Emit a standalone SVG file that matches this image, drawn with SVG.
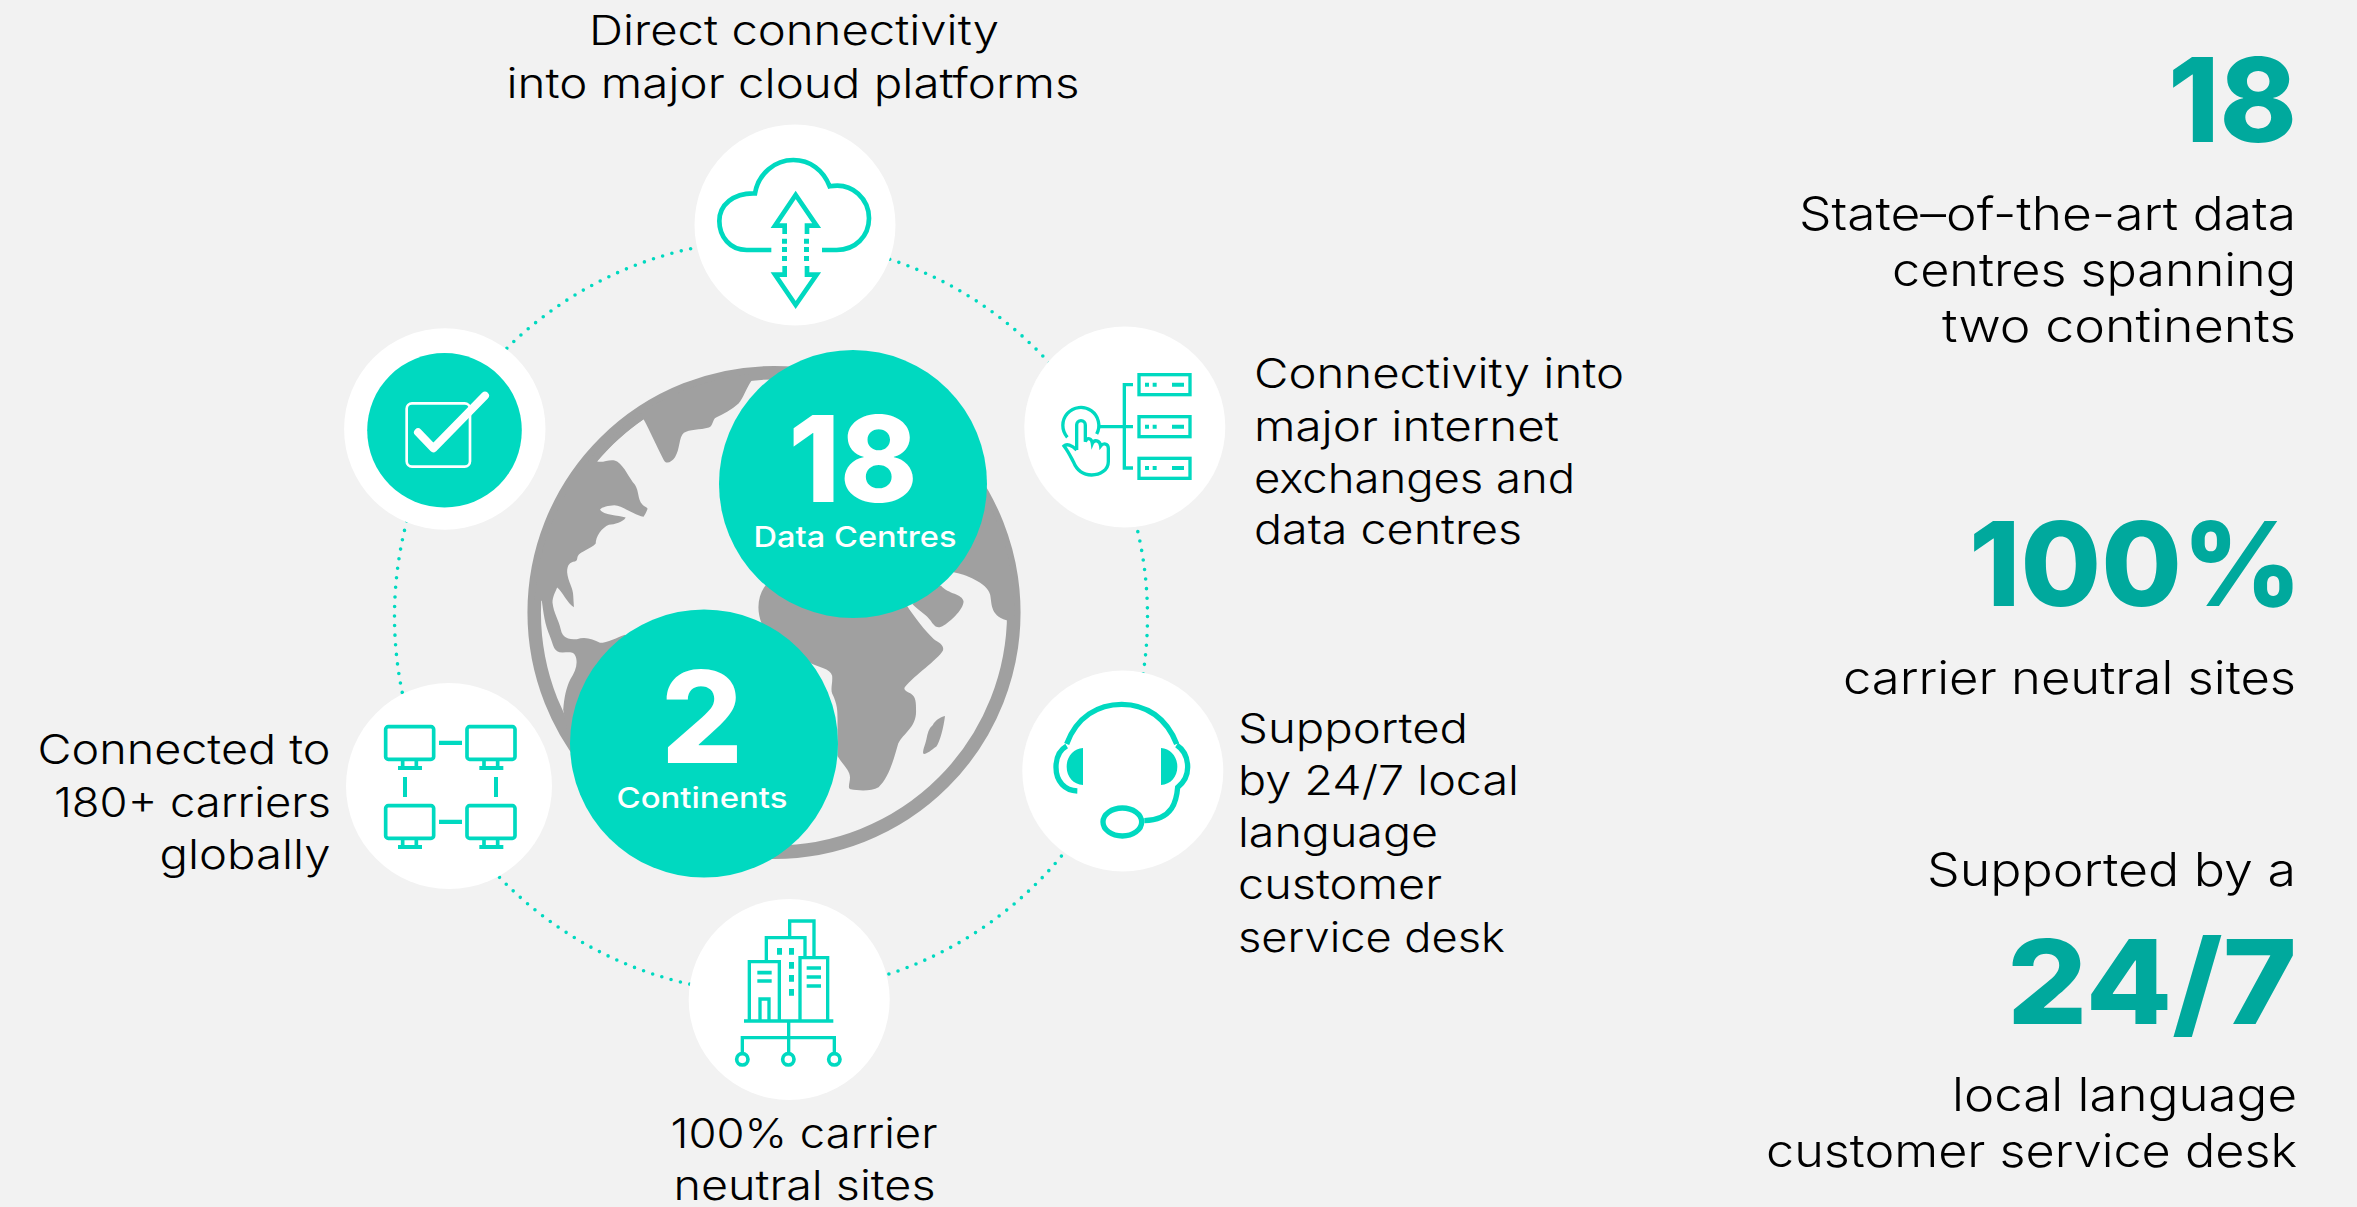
<svg xmlns="http://www.w3.org/2000/svg" xmlns:xlink="http://www.w3.org/1999/xlink" width="2357" height="1207" viewBox="0 0 2357 1207">
<style>
text{font-family:"Inter","Liberation Sans",sans-serif;fill:#000}
.t41{font-size:41px;font-weight:300}
.t46{font-size:46px;font-weight:300}
.big{font-weight:800;fill:#00a99d}
.in{fill:#fff;font-weight:800}
.sub{fill:#fff;font-size:29px;font-weight:500}
.node{fill:#fff}
.ic{fill:none;stroke:#00d9c0;stroke-linecap:butt;stroke-linejoin:miter}
.icf{fill:#00d9c0}
.land{fill:#a0a0a0}
.teal{fill:#00d9c0}
</style>
<defs>
<g id="mon">
<rect class="ic" x="137" y="170" width="144" height="98" rx="8" stroke-width="11"/>
<path class="ic" stroke-width="11" d="M188,268V292M229,268V292"/>
<rect class="icf" x="174" y="288" width="72" height="12"/>
</g>
</defs>
<rect width="2357" height="1207" fill="#f2f2f2"/>
<g id="connectors">
<circle cx="771" cy="616.5" r="376.5" fill="none" stroke="#00d9c0" stroke-width="3.6" stroke-linecap="round" stroke-dasharray="0 9.616"/>
</g>
<g id="globe">
<circle cx="774" cy="612.5" r="239.8" fill="none" stroke="#a0a0a0" stroke-width="13.5"/>
<g transform="translate(500,340) scale(.35714)">
<path class="land" d="M705,113C690,135 680,165 668,178C650,195 625,208 605,217C595,222 597,240 585,245C560,252 530,250 515,260C500,272 505,305 490,328C480,342 465,350 458,335C440,300 420,255 402,222C355,255 310,295 272,340C290,345 310,330 328,340C350,355 360,385 378,405C390,425 385,445 398,460C405,468 413,468 413,473C410,482 405,490 402,495C375,490 345,465 320,463C305,464 285,468 280,475C290,490 330,490 352,497C345,510 320,517 305,517C285,525 268,550 268,570C255,585 225,592 218,605C215,612 218,618 210,620C195,622 188,630 188,650C190,675 205,695 205,715L207,748C190,740 172,700 160,693C155,705 147,720 147,735C150,765 165,785 170,810C175,835 190,838 215,838C240,830 260,838 280,848C300,848 330,832 350,825L450,900L450,1050L200,1160L177,1035C180,1000 185,975 197,950C210,930 218,910 213,890C208,870 195,875 175,875C150,875 150,855 140,830C125,795 122,765 117,730L97,730A671,671 0 0 1 705,95Z"/>
<path class="land" d="M780,640L745,685C725,710 715,750 733,795L800,850L870,905C890,915 925,920 930,940C932,960 925,975 930,990C945,1020 945,1040 945,1060L945,1165C960,1190 980,1205 980,1225C980,1240 972,1255 982,1258C1005,1262 1040,1264 1060,1252C1090,1225 1105,1165 1115,1130C1130,1100 1165,1085 1165,1040C1165,1015 1165,1000 1150,990C1135,982 1128,978 1135,970C1160,940 1225,895 1240,870C1245,855 1230,848 1215,838C1190,815 1160,775 1140,745L1000,650Z"/>
<path class="land" d="M1155,740C1175,760 1195,770 1205,785C1215,800 1222,808 1235,803C1255,795 1298,755 1298,732C1295,710 1255,712 1235,688L1200,690Z"/>
<path class="land" d="M1100,500L1270,650C1300,655 1365,680 1372,712C1378,735 1370,770 1418,785L1440,785A673,673 0 0 0 1300,350Z"/>
<path class="land" d="M1246,1053C1232,1056 1218,1066 1212,1078C1200,1088 1198,1100 1194,1118C1190,1135 1183,1150 1185,1158C1190,1163 1205,1150 1222,1138C1232,1125 1242,1085 1246,1053Z"/>
</g>
</g>
<g id="node-18">
<circle class="teal" cx="853" cy="484" r="134"/>
<text class="in" x="788.5" y="502" font-size="120" textLength="129" lengthAdjust="spacingAndGlyphs">18</text>
<text class="sub" x="753.5" y="547" textLength="203" lengthAdjust="spacingAndGlyphs">Data Centres</text>
</g>
<g id="node-2">
<circle class="teal" cx="704" cy="743.5" r="134"/>
<text class="in" x="661" y="763" font-size="128" textLength="82" lengthAdjust="spacingAndGlyphs">2</text>
<text class="sub" x="616.5" y="808" textLength="171" lengthAdjust="spacingAndGlyphs">Continents</text>
</g>
<g id="node-cloud">
<circle class="node" cx="795" cy="225" r="100.5"/>
<g transform="translate(680,110) scale(.33333)">
<path class="ic" stroke-width="14" d="M274,420H200C150,420 118,380 118,333C118,285 160,248 225,250C235,190 285,150 340,150C390,150 430,180 449,229C520,215 567,270 567,325C567,380 525,420 470,420H426"/>
<path class="ic" stroke-width="14" d="M314,372V347H285L347,255L410,347H381V372M314,468V494H285L347,585L410,494H381V468"/>
<path class="icf" d="M306,386h15v15h-15zM306,411h15v15h-15zM306,438h15v15h-15zM372,386h15v15h-15zM372,411h15v15h-15zM372,438h15v15h-15z"/>
</g>
<text class="t41" x="589" y="45" textLength="410" lengthAdjust="spacingAndGlyphs">Direct connectivity</text>
<text class="t41" x="506.5" y="98" textLength="573" lengthAdjust="spacingAndGlyphs">into major cloud platforms</text>
</g>
<g id="node-network">
<circle class="node" cx="1124.8" cy="427" r="100.5"/>
<g transform="translate(1010,320) scale(.33333)">
<rect class="ic" stroke-width="10" x="387" y="164" width="153" height="60"/>
<rect class="ic" stroke-width="10" x="387" y="290" width="153" height="60"/>
<rect class="ic" stroke-width="10" x="387" y="415" width="153" height="60"/>
<path class="icf" d="M405,188h12v12h-12zM428,188h12v12h-12zM486,188h36v12h-36zM405,314h12v12h-12zM428,314h12v12h-12zM486,314h36v12h-36zM405,438h12v12h-12zM428,438h12v12h-12zM486,438h36v12h-36z"/>
<path class="ic" stroke-width="10" d="M369,194H343V444H369M270,320H369"/>
<path class="ic" stroke-width="10" stroke-linecap="round" stroke-linejoin="round" d="M172,352A54,54 0 1 1 260,342"/>
<path class="ic" stroke-width="10" stroke-linecap="round" stroke-linejoin="round" d="M200,390V315A13,13 0 0 1 226,315V365C232,350 245,355 247,370C252,358 270,360 272,378C280,368 295,370 295,385V425C295,450 270,465 245,465C215,465 200,450 190,425C182,410 175,395 162,378C170,370 185,375 200,390"/>
</g>
<text class="t41" x="1254" y="388" textLength="370" lengthAdjust="spacingAndGlyphs">Connectivity into</text>
<text class="t41" x="1254" y="440.5" textLength="305" lengthAdjust="spacingAndGlyphs">major internet</text>
<text class="t41" x="1254" y="492.5" textLength="321" lengthAdjust="spacingAndGlyphs">exchanges and</text>
<text class="t41" x="1254" y="544" textLength="268" lengthAdjust="spacingAndGlyphs">data centres</text>
</g>
<g id="node-support">
<circle class="node" cx="1122.8" cy="771" r="100.5"/>
<g transform="translate(1010,660) scale(.33333)">
<path class="ic" stroke-width="16" d="M170,252C200,170 265,133 335,133C410,133 470,175 500,252M170,258C140,275 138,305 138,322C138,365 165,392 202,393M500,255C530,275 533,305 533,322C533,345 525,365 503,382C500,420 490,480 403,482"/>
<ellipse class="ic" stroke-width="16" cx="337" cy="486" rx="58" ry="42"/>
<path class="icf" d="M219,264C190,266 170,290 170,320C170,350 190,373 219,375ZM453,264C482,266 502,290 502,320C502,350 482,373 453,375Z"/>
</g>
<text class="t41" x="1238" y="742.5" textLength="230" lengthAdjust="spacingAndGlyphs">Supported</text>
<text class="t41" x="1238" y="794.5" textLength="281" lengthAdjust="spacingAndGlyphs">by 24/7 local</text>
<text class="t41" x="1238" y="846.5" textLength="200" lengthAdjust="spacingAndGlyphs">language</text>
<text class="t41" x="1238" y="898.5" textLength="204" lengthAdjust="spacingAndGlyphs">customer</text>
<text class="t41" x="1238" y="951.5" textLength="267" lengthAdjust="spacingAndGlyphs">service desk</text>
</g>
<g id="node-sites">
<circle class="node" cx="789.2" cy="999.5" r="100.5"/>
<g transform="translate(680,890) scale(.33333)">
<path class="ic" stroke-width="11" stroke-linecap="round" stroke-linejoin="round" d="M192,393H460M232,248H275M232,273H275M380,234H423M380,261H423M380,288H423"/>
<path class="ic" stroke-width="10" stroke-linejoin="round" d="M208,390V215H298V390M240,390V327H267V390M259,212V143H375V200M329,140V93H402V200M360,390V203H443V390M326,395V490M187,490V443H463V490"/>
<path class="icf" d="M291,174h15v20h-15zM327,174h15v20h-15zM327,216h15v20h-15zM327,255h15v20h-15zM327,297h15v20h-15z"/>
<circle class="ic" stroke-width="11" cx="187" cy="508" r="17"/>
<circle class="ic" stroke-width="11" cx="325" cy="508" r="17"/>
<circle class="ic" stroke-width="11" cx="463" cy="508" r="17"/>
</g>
<text class="t41" x="670.5" y="1147.5" textLength="267" lengthAdjust="spacingAndGlyphs">100% carrier</text>
<text class="t41" x="673.5" y="1199.5" textLength="262" lengthAdjust="spacingAndGlyphs">neutral sites</text>
</g>
<g id="node-carriers">
<circle class="node" cx="449" cy="786" r="103"/>
<g transform="translate(340,670) scale(.33333)">
<use xlink:href="#mon"/>
<use xlink:href="#mon" x="244"/>
<use xlink:href="#mon" y="237"/>
<use xlink:href="#mon" x="244" y="237"/>
<path class="icf" d="M297,212h69v13h-69zM297,449h69v13h-69zM189,321h12v60h-12zM462,321h12v60h-12z"/>
</g>
<text class="t41" x="37.5" y="764" textLength="293" lengthAdjust="spacingAndGlyphs">Connected to</text>
<text class="t41" x="54" y="816.5" textLength="277" lengthAdjust="spacingAndGlyphs">180+ carriers</text>
<text class="t41" x="159.5" y="868.5" textLength="171" lengthAdjust="spacingAndGlyphs">globally</text>
</g>
<g id="node-check">
<circle class="node" cx="444.8" cy="429" r="100.7"/>
<circle class="teal" cx="444.5" cy="430.3" r="77.3"/>
<g transform="translate(340,320) scale(.33333)">
<rect x="200" y="250" width="190" height="190" rx="16" fill="none" stroke="#fff" stroke-width="8"/>
<path d="M234,337L280,385L435,227" fill="none" stroke="#fff" stroke-width="24" stroke-linecap="round" stroke-linejoin="round"/>
</g>
</g>
<g id="stat-18">
<text class="big" x="2168" y="141.5" font-size="117" textLength="129" lengthAdjust="spacingAndGlyphs">18</text>
<text class="t46" x="1799" y="230" textLength="497" lengthAdjust="spacingAndGlyphs">State–of-the-art data</text>
<text class="t46" x="1892" y="286" textLength="404" lengthAdjust="spacingAndGlyphs">centres spanning</text>
<text class="t46" x="1942" y="342" textLength="354" lengthAdjust="spacingAndGlyphs">two continents</text>
</g>
<g id="stat-100">
<text class="big" x="1969" y="605.5" font-size="117" textLength="333" lengthAdjust="spacingAndGlyphs">100%</text>
<text class="t46" x="1843" y="694" textLength="453" lengthAdjust="spacingAndGlyphs">carrier neutral sites</text>
</g>
<g id="stat-247">
<text class="t46" x="1927" y="886" textLength="369" lengthAdjust="spacingAndGlyphs">Supported by a</text>
<text class="big" x="2007" y="1024" font-size="117" textLength="290" lengthAdjust="spacingAndGlyphs">24/7</text>
<text class="t46" x="1952" y="1111" textLength="345" lengthAdjust="spacingAndGlyphs">local language</text>
<text class="t46" x="1766" y="1167" textLength="531" lengthAdjust="spacingAndGlyphs">customer service desk</text>
</g>
</svg>
